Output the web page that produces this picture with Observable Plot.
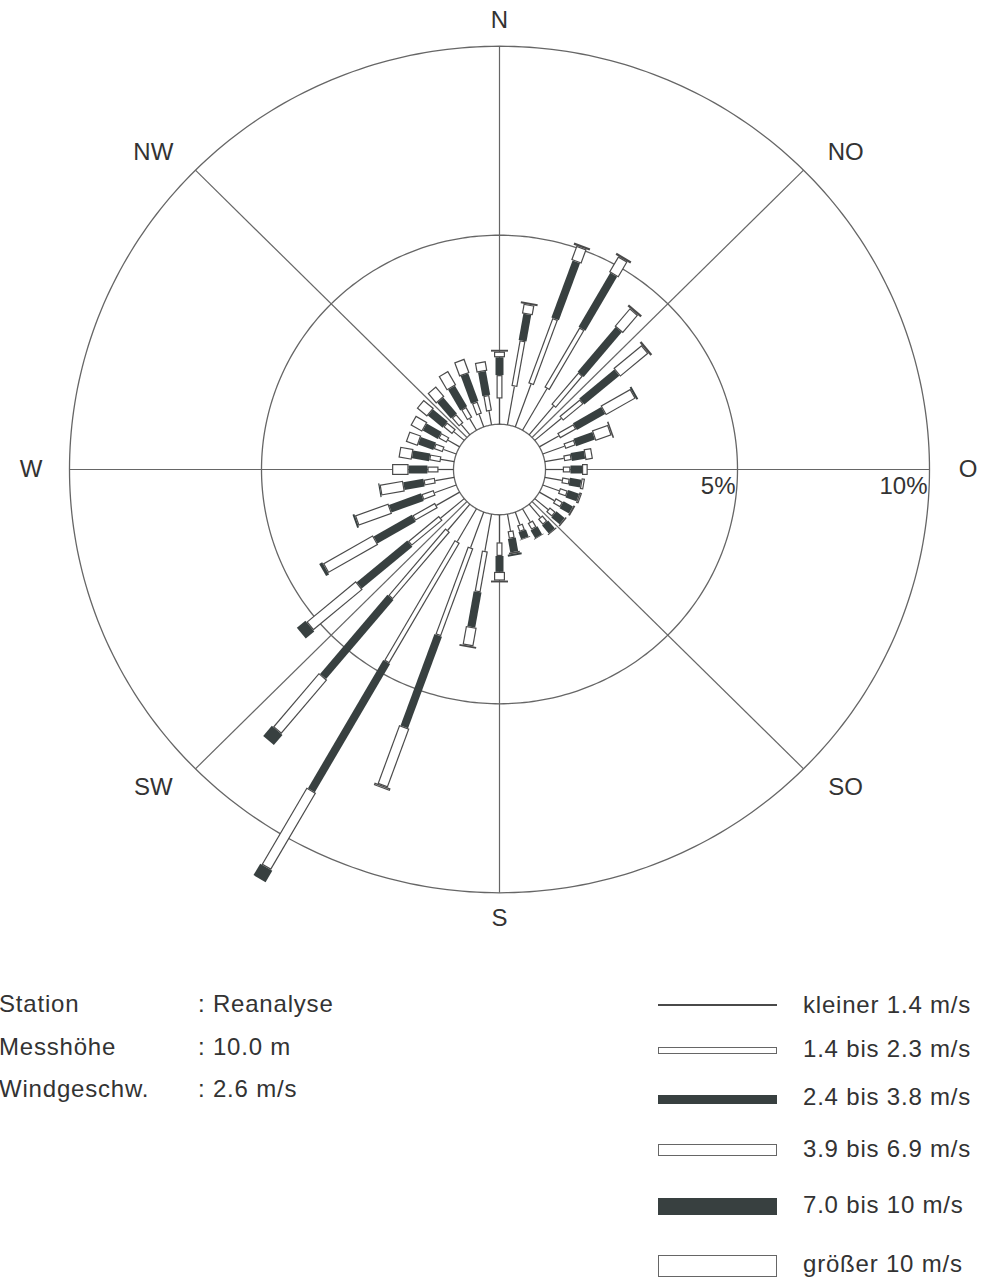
<!DOCTYPE html>
<html><head><meta charset="utf-8">
<script src="https://cdn.jsdelivr.net/npm/d3@7"></script>
<script src="https://cdn.jsdelivr.net/npm/@observablehq/plot@0.6"></script>
<style>
body{margin:0;background:#fff;width:982px;height:1279px;overflow:hidden;position:relative;font-family:"Liberation Sans",Arial,sans-serif;color:#333}
#chart{position:absolute;left:0;top:0}
.t{position:absolute;font-size:24px;letter-spacing:0.8px;line-height:24px;white-space:nowrap;color:#333}
.sw{position:absolute;left:658px;width:119px;box-sizing:border-box}
</style></head><body>
<div id="chart"></div>
<div id="info"></div>
<div id="legend"></div>
<script>
// ---- data (percent of time per 10° sector and wind speed class) ----
const directions = [0,10,20,30,40,50,60,70,80,90,100,110,120,130,140,150,160,170,180,190,200,210,220,230,240,250,260,270,280,290,300,310,320,330,340,350];
const kleiner14 = [0.68,1.03,1.20,1.27,0.99,0.90,0.58,0.60,0.50,0.45,0.45,0.45,0.45,0.45,0.45,0.40,0.35,0.45,0.73,0.99,1.00,1.00,0.90,0.80,0.70,0.60,0.50,0.39,0.35,0.35,0.35,0.35,0.35,0.35,0.35,0.37];
const bis23     = [0.62,1.23,1.84,1.83,1.10,0.70,0.49,0.29,0.20,0.20,0.20,0.22,0.22,0.20,0.20,0.20,0.18,0.20,0.36,1.10,2.47,3.68,2.32,1.05,0.68,0.34,0.30,0.29,0.30,0.25,0.25,0.30,0.30,0.32,0.34,0.42];
const bis38     = [0.47,0.71,1.61,1.65,1.54,1.19,0.85,0.52,0.35,0.30,0.30,0.30,0.28,0.28,0.27,0.24,0.20,0.36,0.42,0.94,2.58,3.92,2.73,1.72,1.15,0.89,0.53,0.49,0.45,0.42,0.45,0.50,0.55,0.63,0.78,0.64];
const bis69     = [0.15,0.26,0.40,0.48,0.62,0.96,0.90,0.45,0.20,0.15,0.09,0.07,0.05,0.04,0.03,0.02,0.02,0.05,0.23,0.50,1.65,2.35,1.86,1.68,1.50,0.93,0.62,0.43,0.35,0.33,0.35,0.35,0.35,0.43,0.40,0.26];
const bis10     = [0,0,0,0,0,0,0.05,0,0,0,0,0,0,0,0,0,0,0.05,0,0,0,0.35,0.35,0.29,0.09,0.05,0.03,0,0,0,0,0,0,0,0,0];
const groesser10= [0.05,0.05,0.06,0.06,0.06,0.06,0,0.04,0,0,0,0,0,0,0,0,0,0,0.05,0.05,0.07,0,0,0,0,0,0,0,0,0,0,0,0,0,0,0];
const classNames = ["kleiner 1.4 m/s","1.4 bis 2.3 m/s","2.4 bis 3.8 m/s","3.9 bis 6.9 m/s","7.0 bis 10 m/s","größer 10 m/s"];
const rings = [5, 10];
const ringLabels = ["5%", "10%"];
const compassNames = ["N","NO","O","SO","S","SW","W","NW"];
const compassAngles = [0,45,90,135,180,225,270,315];
const infoKeys = ["Station","Messhöhe","Windgeschw."];
const infoValues = [": Reanalyse",": 10.0 m",": 2.6 m/s"];

// ---- layout / style ----
const W = 982, H = 960, CX = 499, CY = 469, KX = 38.4, KY = 37.8;
const HOLE = 46 / KX;           // calm circle radius in percent units
const DARK = "#384040", EDGE = "#4a4a4a", GRID = "#666";
const classStyle = [
  {kind: "line", w: 1.2},
  {kind: "open", w: 6},
  {kind: "fill", w: 8},
  {kind: "open", w: 11},
  {kind: "fill", w: 14},
  {kind: "open", w: 17}
];
const series = [kleiner14, bis23, bis38, bis69, bis10, groesser10];
const rad = a => a * Math.PI / 180;
const X = (r, a) => r * Math.sin(rad(a));
const Y = (r, a) => r * Math.cos(rad(a));

const segs = [];
directions.forEach((dir, i) => {
  let r = HOLE;
  series.forEach((vals, c) => {
    const L = vals[i];
    if (L > 0) segs.push({dir, c, r1: r, r2: r + L, w: classStyle[c].w, kind: classStyle[c].kind});
    r += L;
  });
});
const e = 1.2 / KX;
const inner = segs.filter(s => s.kind === "open" && s.r2 - s.r1 > 2.2 * e)
  .map(s => ({...s, r1: s.r1 + e, r2: s.r2 - e, w: s.w - 2.4}));

const ringPts = [];
[0, ...rings].forEach(rg => {
  for (let a = 0; a <= 360; a += 1) ringPts.push({ring: rg, x: X(HOLE + rg, a), y: Y(HOLE + rg, a)});
});
const outerR = HOLE + rings[rings.length - 1];
const spokes = compassAngles.map(a => ({a}));

const linkOpts = (extra) => ({
  x1: d => X(d.r1, d.dir), y1: d => Y(d.r1, d.dir),
  x2: d => X(d.r2, d.dir), y2: d => Y(d.r2, d.dir),
  ...extra
});
// label radii (percent units): axis labels sit closer than diagonal ones horizontally
const labRX = a => (a % 90 === 0 ? 12.2 : 12.75);
const labRY = 11.88;

const chart = Plot.plot({
  width: W, height: H, margin: 0,
  x: {domain: [-CX / KX, (W - CX) / KX], range: [0, W], axis: null},
  y: {domain: [-(H - CY) / KY, CY / KY], range: [H, 0], axis: null},
  style: {fontFamily: "'Liberation Sans', Arial, sans-serif", background: "white", color: "#333"},
  marks: [
    Plot.line(ringPts, {x: "x", y: "y", z: "ring", stroke: GRID, strokeWidth: 1.3}),
    Plot.link(spokes, {x1: d => X(HOLE, d.a), y1: d => Y(HOLE, d.a), x2: d => X(outerR, d.a), y2: d => Y(outerR, d.a), stroke: GRID, strokeWidth: 1.2}),
    Plot.link(segs.filter(s => s.kind === "line"), linkOpts({stroke: EDGE, strokeWidth: "w"})),
    Plot.link(segs.filter(s => s.kind === "open"), linkOpts({stroke: EDGE, strokeWidth: "w"})),
    Plot.link(segs.filter(s => s.kind === "fill"), linkOpts({stroke: DARK, strokeWidth: "w"})),
    Plot.link(inner, linkOpts({stroke: "white", strokeWidth: "w"})),
    Plot.text(compassNames, {
      x: (d, i) => labRX(compassAngles[i]) * Math.sin(rad(compassAngles[i])),
      y: (d, i) => labRY * Math.cos(rad(compassAngles[i])),
      text: d => d, fontSize: 24, fill: "#333"
    }),
    Plot.text(ringLabels, {
      x: (d, i) => HOLE + rings[i], y: 0, text: d => d,
      textAnchor: "end", dx: -2, dy: 17, fontSize: 24, fill: "#333"
    })
  ]
});
document.getElementById("chart").appendChild(chart);

// ---- info block ----
const info = document.getElementById("info");
const infoTops = [992, 1035, 1077];
infoKeys.forEach((k, i) => {
  const a = document.createElement("div"); a.className = "t"; a.style.left = "-1px"; a.style.top = infoTops[i] + "px"; a.textContent = k; info.appendChild(a);
  const b = document.createElement("div"); b.className = "t"; b.style.left = "198px"; b.style.top = infoTops[i] + "px"; b.textContent = infoValues[i]; info.appendChild(b);
});

// ---- legend ----
const legend = document.getElementById("legend");
const swCenters = [1005, 1050, 1099, 1150, 1206, 1266];
const swHeights = [1.3, 7, 9, 12, 17, 22];
const textBase = [1013, 1057, 1105, 1157, 1213, 1272];
classNames.forEach((name, i) => {
  const s = document.createElement("div"); s.className = "sw";
  const h = swHeights[i];
  s.style.top = (swCenters[i] - h / 2) + "px"; s.style.height = h + "px";
  const st = classStyle[i];
  if (st.kind === "line") s.style.background = EDGE;
  else if (st.kind === "fill") s.style.background = DARK;
  else { s.style.background = "#fff"; s.style.border = "1.4px solid #666"; }
  legend.appendChild(s);
  const t = document.createElement("div"); t.className = "t"; t.style.left = "803px"; t.style.top = (textBase[i] - 20) + "px"; t.textContent = name;
  legend.appendChild(t);
});
</script>
</body></html>
